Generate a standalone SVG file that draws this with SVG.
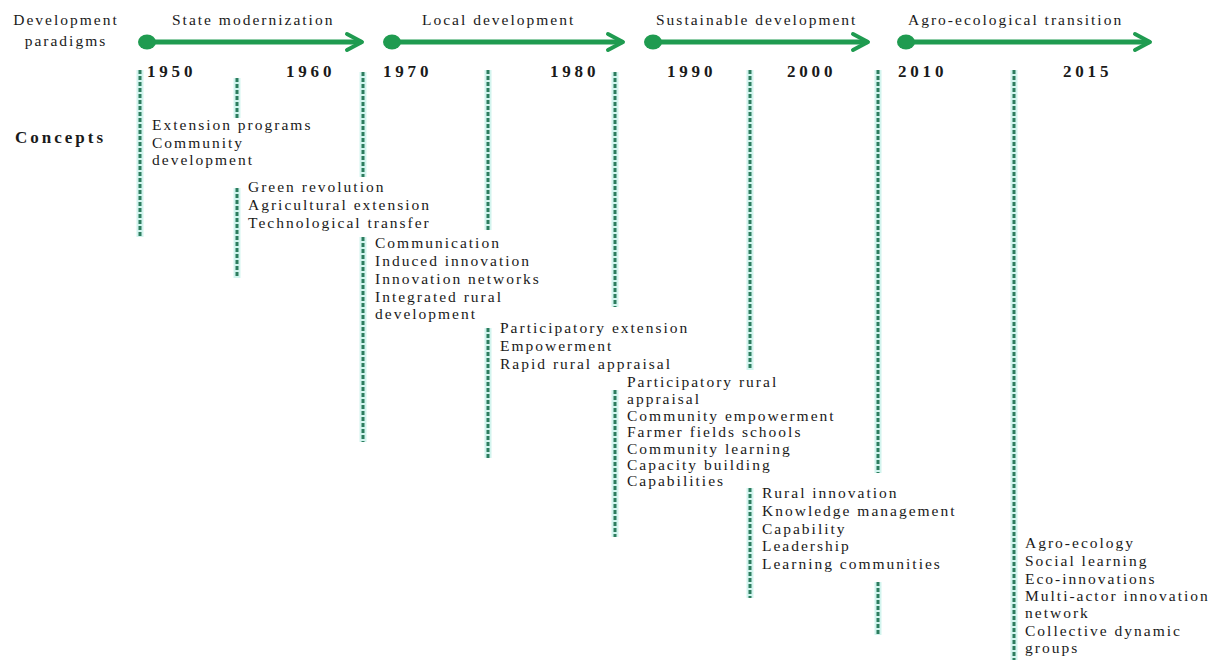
<svg xmlns="http://www.w3.org/2000/svg" width="1214" height="660" viewBox="0 0 1214 660">
<style>
  .lbl { font-family: "Liberation Serif", "Times New Roman", serif; font-size: 15.5px; letter-spacing: 2px; fill: #1a1a1a; }
  .yr { font-family: "Liberation Serif", "Times New Roman", serif; font-size: 17px; font-weight: bold; letter-spacing: 3.8px; fill: #1a1a1a; }
  .hd { font-family: "Liberation Serif", "Times New Roman", serif; font-size: 17px; font-weight: bold; letter-spacing: 3px; fill: #1a1a1a; }
  .bar { stroke: #1f9b50; stroke-width: 5; fill: none; stroke-linecap: round; }
  .chev { stroke: #1f9b50; stroke-width: 4; fill: none; stroke-linecap: round; stroke-linejoin: round; }
  .dot { fill: #1f9b50; }
  .halo { stroke: #d2f4ee; stroke-width: 7; fill: none; }
  .dash { stroke: #2c7d5e; stroke-width: 3; fill: none; stroke-dasharray: 4 2; }
</style>
<rect width="1214" height="660" fill="#ffffff"/>

<g id="header">
  <text class="lbl" x="66" y="25" text-anchor="middle">Development</text>
  <text class="lbl" x="66" y="46" text-anchor="middle">paradigms</text>
  <text class="hd" x="15" y="143">Concepts</text>
</g>

<g id="paradigm-state-modernization">
  <line class="bar" x1="147" y1="42" x2="360" y2="42"/>
  <polyline class="chev" points="347,34 362,42 347,50"/>
  <ellipse class="dot" cx="147" cy="42" rx="9" ry="7.5"/>
  <text class="lbl" x="172" y="25">State modernization</text>
</g>
<g id="paradigm-local-development">
  <line class="bar" x1="392" y1="42" x2="621" y2="42"/>
  <polyline class="chev" points="608,34 623,42 608,50"/>
  <ellipse class="dot" cx="392" cy="42" rx="9" ry="7.5"/>
  <text class="lbl" x="422" y="25">Local development</text>
</g>
<g id="paradigm-sustainable-development">
  <line class="bar" x1="653" y1="42" x2="866" y2="42"/>
  <polyline class="chev" points="853,34 868,42 853,50"/>
  <ellipse class="dot" cx="653" cy="42" rx="9" ry="7.5"/>
  <text class="lbl" x="656" y="25">Sustainable development</text>
</g>
<g id="paradigm-agro-ecological-transition">
  <line class="bar" x1="906" y1="42" x2="1148" y2="42"/>
  <polyline class="chev" points="1135,34 1150,42 1135,50"/>
  <ellipse class="dot" cx="906" cy="42" rx="9" ry="7.5"/>
  <text class="lbl" x="908" y="25">Agro-ecological transition</text>
</g>

<g id="years">
  <text class="yr" x="147" y="77">1950</text>
  <text class="yr" x="286" y="77">1960</text>
  <text class="yr" x="383" y="77">1970</text>
  <text class="yr" x="550" y="77">1980</text>
  <text class="yr" x="667" y="77">1990</text>
  <text class="yr" x="787" y="77">2000</text>
  <text class="yr" x="898" y="77">2010</text>
  <text class="yr" x="1063" y="77">2015</text>
</g>

<g id="connectors">
  <g class="halos">
    <line class="halo" x1="140" y1="70" x2="140" y2="237"/>
    <line class="halo" x1="237" y1="78" x2="237" y2="118"/>
    <line class="halo" x1="237" y1="188" x2="237" y2="278"/>
    <line class="halo" x1="363" y1="72" x2="363" y2="177"/>
    <line class="halo" x1="363" y1="237" x2="363" y2="442"/>
    <line class="halo" x1="488" y1="70" x2="488" y2="230"/>
    <line class="halo" x1="488" y1="328" x2="488" y2="458"/>
    <line class="halo" x1="615" y1="72" x2="615" y2="307"/>
    <line class="halo" x1="615" y1="390" x2="615" y2="537"/>
    <line class="halo" x1="750" y1="70" x2="750" y2="370"/>
    <line class="halo" x1="750" y1="488" x2="750" y2="598"/>
    <line class="halo" x1="878" y1="70" x2="878" y2="473"/>
    <line class="halo" x1="878" y1="582" x2="878" y2="635"/>
    <line class="halo" x1="1014" y1="70" x2="1014" y2="660"/>
  </g>
  <line class="dash" x1="140" y1="70" x2="140" y2="237"/>
  <line class="dash" x1="237" y1="78" x2="237" y2="118"/>
  <line class="dash" x1="237" y1="188" x2="237" y2="278"/>
  <line class="dash" x1="363" y1="72" x2="363" y2="177"/>
  <line class="dash" x1="363" y1="237" x2="363" y2="442"/>
  <line class="dash" x1="488" y1="70" x2="488" y2="230"/>
  <line class="dash" x1="488" y1="328" x2="488" y2="458"/>
  <line class="dash" x1="615" y1="72" x2="615" y2="307"/>
  <line class="dash" x1="615" y1="390" x2="615" y2="537"/>
  <line class="dash" x1="750" y1="70" x2="750" y2="370"/>
  <line class="dash" x1="750" y1="488" x2="750" y2="598"/>
  <line class="dash" x1="878" y1="70" x2="878" y2="473"/>
  <line class="dash" x1="878" y1="582" x2="878" y2="635"/>
  <line class="dash" x1="1014" y1="70" x2="1014" y2="660"/>
</g>

<g id="concepts-1950s">
  <text class="lbl"><tspan x="152" y="130">Extension programs</tspan><tspan x="152" y="147.5">Community</tspan><tspan x="152" y="165">development</tspan></text>
</g>
<g id="concepts-1960s">
  <text class="lbl"><tspan x="248" y="192">Green revolution</tspan><tspan x="248" y="210">Agricultural extension</tspan><tspan x="248" y="228">Technological transfer</tspan></text>
</g>
<g id="concepts-1970s">
  <text class="lbl"><tspan x="375" y="248">Communication</tspan><tspan x="375" y="266">Induced innovation</tspan><tspan x="375" y="284">Innovation networks</tspan><tspan x="375" y="302">Integrated rural</tspan><tspan x="375" y="319">development</tspan></text>
</g>
<g id="concepts-1980s">
  <text class="lbl"><tspan x="500" y="333">Participatory extension</tspan><tspan x="500" y="351">Empowerment</tspan><tspan x="500" y="369">Rapid rural appraisal</tspan></text>
</g>
<g id="concepts-1990s">
  <text class="lbl"><tspan x="627" y="387">Participatory rural</tspan><tspan x="627" y="404">appraisal</tspan><tspan x="627" y="420.5">Community empowerment</tspan><tspan x="627" y="437">Farmer fields schools</tspan><tspan x="627" y="453.5">Community learning</tspan><tspan x="627" y="470">Capacity building</tspan><tspan x="627" y="486">Capabilities</tspan></text>
</g>
<g id="concepts-2000s">
  <text class="lbl"><tspan x="762" y="498">Rural innovation</tspan><tspan x="762" y="516">Knowledge management</tspan><tspan x="762" y="534">Capability</tspan><tspan x="762" y="551">Leadership</tspan><tspan x="762" y="569">Learning communities</tspan></text>
</g>
<g id="concepts-2010s">
  <text class="lbl"><tspan x="1025" y="548">Agro-ecology</tspan><tspan x="1025" y="566">Social learning</tspan><tspan x="1025" y="584">Eco-innovations</tspan><tspan x="1025" y="601">Multi-actor innovation</tspan><tspan x="1025" y="618">network</tspan><tspan x="1025" y="636">Collective dynamic</tspan><tspan x="1025" y="653">groups</tspan></text>
</g>
</svg>
